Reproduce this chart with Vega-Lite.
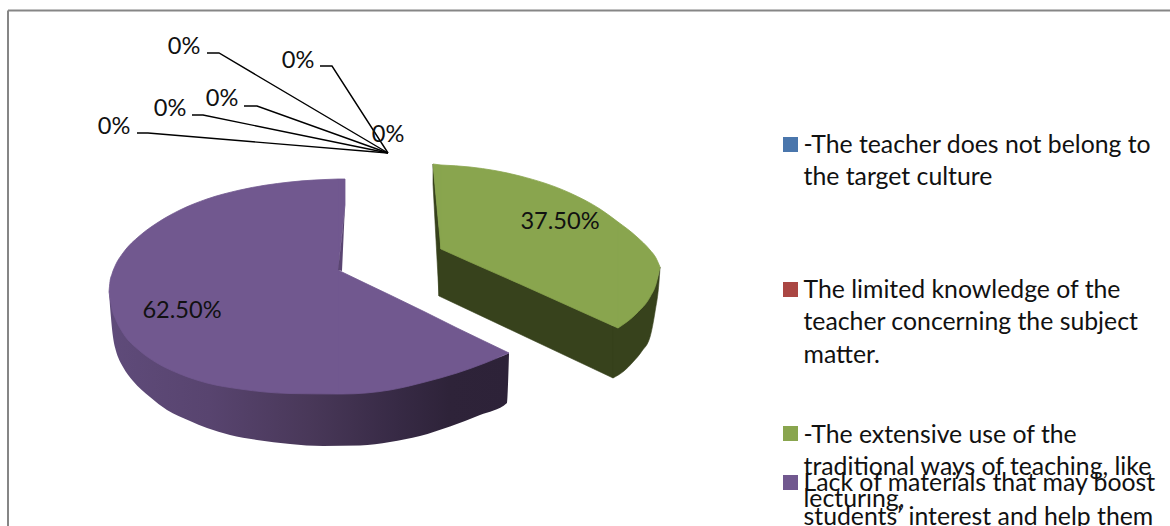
{
"$schema":"https://vega.github.io/schema/vega-lite/v6.json",
"width":1170,"height":526,"padding":0,
"autosize":{"type":"none"},
"background":"white",
"config":{"view":{"stroke":null}},
"datasets":{
"frame":[{"x":8,"y":10.5,"x2":1170,"y2":10.5},{"x":8,"y":10.5,"x2":8,"y2":526}],
"purpleWall":[
{"x":109,"y":292,"y2":292},{"x":111,"y":300,"y2":318},{"x":113,"y":306,"y2":337},{"x":116,"y":316,"y2":351},{"x":118,"y":320,"y2":357},{"x":123,"y":329,"y2":367},{"x":133,"y":340,"y2":381},{"x":150,"y":353,"y2":397},{"x":167,"y":364,"y2":410},{"x":190,"y":373,"y2":421},{"x":207,"y":379,"y2":428},{"x":230,"y":384,"y2":435},{"x":257,"y":388,"y2":440},{"x":290,"y":390,"y2":444},{"x":323,"y":390,"y2":446},{"x":360,"y":389,"y2":445.5},{"x":390,"y":386,"y2":442},{"x":420,"y":380,"y2":436},{"x":450,"y":372,"y2":426.5},{"x":480,"y":362,"y2":415},{"x":507,"y":354,"y2":403},{"x":509,"y":353,"y2":354}],
"greenWall":[
{"part":"a","x":433,"y":164,"y2":184},{"part":"a","x":439,"y":228,"y2":296},
{"part":"b","x":439,"y":228,"y2":296},{"part":"b","x":613,"y":326,"y2":378},
{"part":"c","x":613,"y":326,"y2":378},{"part":"c","x":624,"y":320,"y2":371},{"part":"c","x":633,"y":313,"y2":362},{"part":"c","x":642,"y":304,"y2":351},{"part":"c","x":650,"y":295,"y2":337},{"part":"c","x":655,"y":285,"y2":312},{"part":"c","x":659,"y":272,"y2":282},{"part":"c","x":660,"y":267,"y2":268}],
"faces":[
{"category":"Lack of materials","part":"p1","x":109,"y":292,"y2":292},{"category":"Lack of materials","part":"p1","x":110,"y":281.5,"y2":298},{"category":"Lack of materials","part":"p1","x":112,"y":274,"y2":309},{"category":"Lack of materials","part":"p1","x":116,"y":264,"y2":320},{"category":"Lack of materials","part":"p1","x":123,"y":253,"y2":333},{"category":"Lack of materials","part":"p1","x":140,"y":235.5,"y2":351},{"category":"Lack of materials","part":"p1","x":157,"y":223,"y2":363},{"category":"Lack of materials","part":"p1","x":180,"y":210,"y2":374},{"category":"Lack of materials","part":"p1","x":207,"y":199,"y2":383},{"category":"Lack of materials","part":"p1","x":240,"y":190,"y2":389},{"category":"Lack of materials","part":"p1","x":290,"y":182,"y2":393.5},{"category":"Lack of materials","part":"p1","x":338,"y":179,"y2":394},
{"category":"Lack of materials","part":"p2","x":338,"y":179,"y2":270},{"category":"Lack of materials","part":"p2","x":345,"y":179,"y2":205},
{"category":"Lack of materials","part":"p3","x":338,"y":270,"y2":394},{"category":"Lack of materials","part":"p3","x":342,"y":272,"y2":394},{"category":"Lack of materials","part":"p3","x":390,"y":295,"y2":390},{"category":"Lack of materials","part":"p3","x":425,"y":312,"y2":382},{"category":"Lack of materials","part":"p3","x":457,"y":328,"y2":373},{"category":"Lack of materials","part":"p3","x":485,"y":341.5,"y2":363},{"category":"Lack of materials","part":"p3","x":509,"y":353,"y2":353},
{"category":"Extensive use","part":"g1","x":433,"y":164,"y2":164},{"category":"Extensive use","part":"g1","x":441,"y":165,"y2":249},
{"category":"Extensive use","part":"g2","x":441,"y":165,"y2":249},{"category":"Extensive use","part":"g2","x":470,"y":167,"y2":262},{"category":"Extensive use","part":"g2","x":520,"y":176,"y2":284},{"category":"Extensive use","part":"g2","x":570,"y":193,"y2":306.5},{"category":"Extensive use","part":"g2","x":600,"y":209,"y2":320},{"category":"Extensive use","part":"g2","x":618,"y":222,"y2":328},
{"category":"Extensive use","part":"g3","x":618,"y":222,"y2":328},{"category":"Extensive use","part":"g3","x":637,"y":237,"y2":313},{"category":"Extensive use","part":"g3","x":650,"y":250,"y2":297},{"category":"Extensive use","part":"g3","x":656,"y":258,"y2":284},{"category":"Extensive use","part":"g3","x":660,"y":267,"y2":267}],
"sliver":[{"x":338,"y":270,"y2":270},{"x":342,"y":235,"y2":271},{"x":345,"y":205,"y2":205}],
"leaders":[
{"label":"A","step":1,"x":207,"y":53},{"label":"A","step":2,"x":219,"y":53},{"label":"A","step":3,"x":388,"y":153},
{"label":"B","step":1,"x":320,"y":66},{"label":"B","step":2,"x":332,"y":66},{"label":"B","step":3,"x":388,"y":153},
{"label":"C","step":1,"x":244,"y":106},{"label":"C","step":2,"x":257,"y":106},{"label":"C","step":3,"x":388,"y":153},
{"label":"D","step":1,"x":192,"y":115},{"label":"D","step":2,"x":203,"y":115},{"label":"D","step":3,"x":388,"y":153},
{"label":"E","step":1,"x":137,"y":133},{"label":"E","step":2,"x":148,"y":133},{"label":"E","step":3,"x":388,"y":153}],
"labels":[
{"text":"0%","x":184,"y":47},{"text":"0%","x":298,"y":61},{"text":"0%","x":222,"y":99},{"text":"0%","x":170,"y":109},{"text":"0%","x":114,"y":127},{"text":"0%","x":388,"y":135},
{"text":"37.50%","x":560,"y":222},{"text":"62.50%","x":182,"y":311}],
"keys":[
{"category":"Teacher not of culture","x":790.5,"y":144.5},
{"category":"Limited knowledge","x":790.5,"y":289.5},
{"category":"Extensive use","x":790.5,"y":433.5},
{"category":"Lack of materials","x":790.5,"y":482.5}],
"lines":[
{"text":"-The teacher does not belong to","x":803.5,"y":153},
{"text":"the target culture","x":803.5,"y":185},
{"text":"The limited knowledge of the","x":803.5,"y":298},
{"text":"teacher concerning the subject","x":803.5,"y":330},
{"text":"matter.","x":803.5,"y":362.5},
{"text":"-The extensive use of the","x":803.5,"y":443},
{"text":"traditional ways of teaching, like","x":803.5,"y":475},
{"text":"lecturing,","x":803.5,"y":507},
{"text":"Lack of materials that may boost","x":803.5,"y":491},
{"text":"students’ interest and help them","x":803.5,"y":524.5}]
},
"encoding":{
"x":{"field":"x","type":"quantitative","scale":{"domain":[0,1170]},"axis":null},
"y":{"field":"y","type":"quantitative","scale":{"domain":[526,0]},"axis":null}
},
"layer":[
{"data":{"name":"frame"},"mark":{"type":"rule","stroke":"#868686","strokeWidth":2},"encoding":{"x2":{"field":"x2"},"y2":{"field":"y2"}}},
{"data":{"name":"purpleWall"},"mark":{"type":"area","orient":"vertical","interpolate":"monotone","fill":{"gradient":"linear","x1":0,"y1":0,"x2":1,"y2":0,"stops":[{"offset":0,"color":"#5F4B7A"},{"offset":0.25,"color":"#58446F"},{"offset":0.5,"color":"#493859"},{"offset":0.72,"color":"#372A45"},{"offset":0.85,"color":"#2E2339"},{"offset":1,"color":"#2D2238"}]}},"encoding":{"y2":{"field":"y2"}}},
{"data":{"name":"greenWall"},"mark":{"type":"area","orient":"vertical","interpolate":"monotone","fill":"#37421C","stroke":"#37421C","strokeWidth":0.6},"encoding":{"y2":{"field":"y2"},"detail":{"field":"part"}}},
{"data":{"name":"faces"},"mark":{"type":"area","orient":"vertical","interpolate":"monotone","strokeWidth":0.8},"encoding":{"y2":{"field":"y2"},"detail":{"field":"part"},"color":{"field":"category","type":"nominal","legend":null,"scale":{"domain":["Teacher not of culture","Limited knowledge","Extensive use","Lack of materials"],"range":["#4A76AC","#AA4643","#89A54E","#71588F"]}},"stroke":{"field":"category","type":"nominal","legend":null,"scale":{"domain":["Teacher not of culture","Limited knowledge","Extensive use","Lack of materials"],"range":["#4A76AC","#AA4643","#89A54E","#71588F"]}}}},
{"data":{"name":"sliver"},"mark":{"type":"area","orient":"vertical","fill":"#5A4572"},"encoding":{"y2":{"field":"y2"}}},
{"data":{"name":"leaders"},"mark":{"type":"line","stroke":"#000000","strokeWidth":1.4},"encoding":{"detail":{"field":"label"},"order":{"field":"step","type":"quantitative"}}},
{"data":{"name":"labels"},"mark":{"type":"text","font":"Lato","fontSize":23.6,"fill":"#111111","align":"center","baseline":"middle"},"encoding":{"text":{"field":"text"}}},
{"data":{"name":"keys"},"mark":{"type":"square","size":225,"opacity":1,"filled":true},"encoding":{"color":{"field":"category","type":"nominal","legend":null}}},
{"data":{"name":"lines"},"mark":{"type":"text","font":"Lato","fontSize":24.8,"fill":"#111111","align":"left","baseline":"alphabetic"},"encoding":{"text":{"field":"text"}}}
]
}
